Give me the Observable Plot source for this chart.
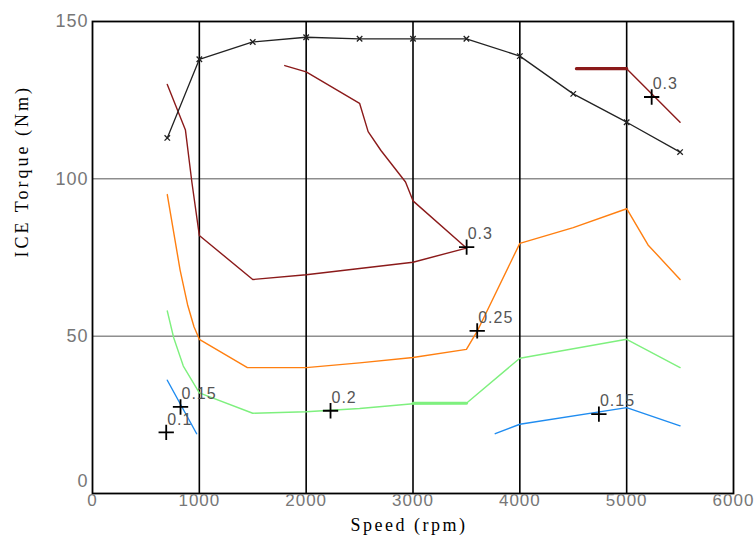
<!DOCTYPE html>
<html><head><meta charset="utf-8">
<script src="https://cdn.jsdelivr.net/npm/d3@7"></script>
<script src="https://cdn.jsdelivr.net/npm/@observablehq/plot@0.6"></script>
<style>
body{margin:0;background:#fff}
g[aria-label="x-axis tick label"] text{letter-spacing:1px}
g[aria-label="y-axis tick label"] text{letter-spacing:1px}
</style>
</head><body><div id="chart"></div>
<script>
const xTicks = [0,1000,2000,3000,4000,5000,6000];
const xGrid = [1000,2000,3000,4000,5000];
const yTicks = [50,100,150];
const yGrid = [50,100];

// Max torque curve (black, x markers)
const maxSpeed  = [700,1000,1500,2000,2500,3000,3500,4000,4500,5000,5500];
const maxTorque = [113,138,143.5,145,144.5,144.5,144.5,139,127,118,108.5];

// Efficiency contour 0.3 (dark red)
const c30aSpeed  = [700,870,930,1000,1500,2000,2500,3000,3500,3000,2930,2700,2580,2500,2000,1800];
const c30aTorque = [130,115.5,99,82,68,69.5,71.5,73.5,78,93,99,109,115,124,134,136];
const c30bSpeed  = [5000,5500];
const c30bTorque = [135,118];
const c30cSpeed  = [4530,5000];
const c30cTorque = [135,135];

// Efficiency contour 0.25 (orange)
const c25Speed  = [700,820,890,950,1000,1450,2000,2500,3000,3500,3600,4000,4500,5000,5200,5500];
const c25Torque = [95,71,60,53,49,40,40,41.5,43.2,45.8,51.5,79.5,84.5,90.5,79,68];

// Efficiency contour 0.2 (green)
const c20Speed  = [700,760,850,1000,1500,2000,2500,3000,3500,4000,4500,5000,5500];
const c20Torque = [58,49.5,40.5,32,25.5,26,27,28.5,28.7,43,46,49,40];
const c20tSpeed  = [3000,3500];
const c20tTorque = [28.7,28.7];

// Efficiency contour 0.15 (blue)
const c15aSpeed  = [700,975];
const c15aTorque = [36,19];
const c15bSpeed  = [3770,4000,5000,5500];
const c15bTorque = [19,22,27.3,21.5];

// Contour labels
const lblSpeed  = [690,824,2228,3601,3502,5234,4740];
const lblTorque = [19.4,27.5,26.3,51.7,78.3,126,25.2];
const lblText   = ["0.1","0.15","0.2","0.25","0.3","0.3","0.15"];

const xTitle = "Speed (rpm)";
const yTitle = "ICE Torque (Nm)";

const pts = (xs, ys) => xs.map((x, i) => ({x, y: ys[i]}));
const labels = lblSpeed.map((x, i) => ({x, y: lblTorque[i], t: lblText[i]}));

const sans = "Liberation Sans, Arial, sans-serif";
const serif = "Liberation Serif, Times New Roman, serif";

const chart = Plot.plot({
  width: 755, height: 546,
  marginLeft: 92, marginRight: 22, marginTop: 21, marginBottom: 53,
  x: {domain: [0, 6000]},
  y: {domain: [0, 150]},
  style: {background: "#fff", fontFamily: sans},
  marks: [
    Plot.gridY(yGrid, {stroke: "#555", strokeOpacity: 1, strokeWidth: 1}),
    Plot.gridX(xGrid, {stroke: "#000", strokeOpacity: 1, strokeWidth: 1.6}),
    Plot.frame({stroke: "#000", strokeWidth: 1.8}),
    Plot.line(pts(c15aSpeed, c15aTorque), {x: "x", y: "y", stroke: "#1f8cf0", strokeWidth: 1.4}),
    Plot.line(pts(c15bSpeed, c15bTorque), {x: "x", y: "y", stroke: "#1f8cf0", strokeWidth: 1.4}),
    Plot.line(pts(c20Speed, c20Torque), {x: "x", y: "y", stroke: "#7ef07e", strokeWidth: 1.4}),
    Plot.line(pts(c20tSpeed, c20tTorque), {x: "x", y: "y", stroke: "#7ef07e", strokeWidth: 3}),
    Plot.line(pts(c25Speed, c25Torque), {x: "x", y: "y", stroke: "#ff7f10", strokeWidth: 1.4}),
    Plot.line(pts(c30aSpeed, c30aTorque), {x: "x", y: "y", stroke: "#8b1a1a", strokeWidth: 1.4}),
    Plot.line(pts(c30bSpeed, c30bTorque), {x: "x", y: "y", stroke: "#8b1a1a", strokeWidth: 1.4}),
    Plot.line(pts(c30cSpeed, c30cTorque), {x: "x", y: "y", stroke: "#8b1a1a", strokeWidth: 3.2}),
    Plot.line(pts(maxSpeed, maxTorque), {x: "x", y: "y", stroke: "#222", strokeWidth: 1.3}),
    Plot.dot(pts(maxSpeed, maxTorque), {x: "x", y: "y", symbol: "times", r: 2.6, stroke: "#222", strokeWidth: 1.3}),
    Plot.dot(labels, {x: "x", y: "y", symbol: "plus", r: 5, stroke: "#000", strokeWidth: 1.8}),
    Plot.text(labels, {x: "x", y: "y", text: "t", textAnchor: "start", dx: 1, dy: -13, fill: "#555", fontSize: 16, fontFamily: sans}),
    Plot.axisX(xTicks, {tickSize: 0, tickPadding: 0, tickFormat: d3.format("d"), fill: "#777", fontSize: 17, fontFamily: sans, label: null}),
    Plot.axisY(yTicks, {tickSize: 0, tickPadding: 4, fill: "#777", fontSize: 18, fontFamily: sans, label: null}),
    Plot.axisY([0], {tickSize: 0, tickPadding: 4, dy: -12, fill: "#777", fontSize: 18, fontFamily: sans, label: null}),
    Plot.text([xTitle], {frameAnchor: "bottom", dy: 37, dx: -4, fontSize: 18, fontFamily: serif, fill: "#000"}),
    Plot.text([yTitle], {frameAnchor: "left", dx: -70, rotate: -90, fontSize: 18, fontFamily: serif, fill: "#000"})
  ]
});
// widen text spacing to match the reference rendering
chart.querySelectorAll("text").forEach(t => {
  const s = t.textContent;
  if (s === xTitle) t.style.letterSpacing = "2.5px";
  else if (s === yTitle) t.style.letterSpacing = "3px";
  else if (lblText.includes(s)) t.style.letterSpacing = "1px";
});
document.getElementById("chart").appendChild(chart);
</script>
</body></html>
